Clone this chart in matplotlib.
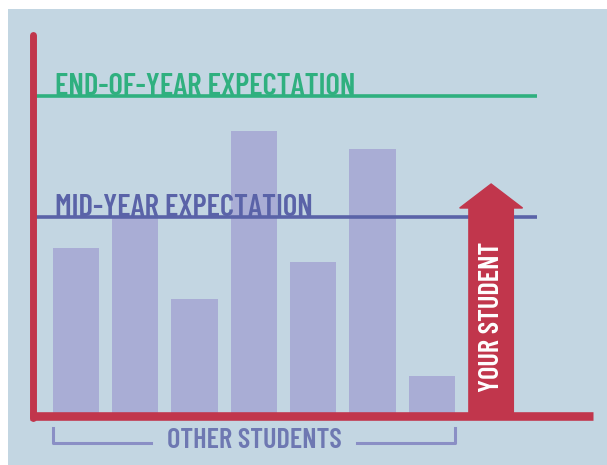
import matplotlib.pyplot as plt
from matplotlib.patches import Rectangle, FancyArrow

# values (end-of-year expectation = 100)
students = ["A", "B", "C", "D", "E", "F", "G"]
scores = [52.5, 62, 36.5, 89, 48, 83.5, 12.5]
mid_year = 62.2
end_of_year = 100
your_student = 72.5

RED = "#c1364c"
GREEN = "#2fb07f"
BLUE = "#5a63a8"
BAR = "#a9add5"
BG = "#c3d6e2"
FONT = ["Barlow Condensed", "Roboto Condensed", "DejaVu Sans"]

fig = plt.figure(figsize=(6.07, 4.65), dpi=100)
fig.patches.append(Rectangle((8 / 607, 0), 1, 1 - 9 / 465, transform=fig.transFigure,
                             facecolor=BG, edgecolor="none", zorder=-10))

ax = fig.add_axes([0, 0, 1, 1])
ax.set_xlim(-1.2816, 8.954)
ax.set_ylim(-15.31, 130)
ax.axis("off")
ax.patch.set_visible(False)

n = len(scores)
bw = 0.78
xs = list(range(n))
ax.bar(xs, scores, width=bw, color=BAR, zorder=2)

# expectation lines + labels sitting on them
for val, col, label in [(end_of_year, GREEN, "END-OF-YEAR EXPECTATION"),
                        (mid_year, BLUE, "MID-YEAR EXPECTATION")]:
    ax.plot([-0.67, 7.77], [val, val], color=col, lw=2.6, zorder=3, solid_capstyle="butt")
    ax.text(-0.36, val + 0.4, label, color=col, fontsize=22.2, fontweight="semibold",
            family=FONT, ha="left", va="baseline", zorder=4)

# your student arrow
arrow = FancyArrow(n, 0, 0, your_student, width=0.75, head_width=1.06, head_length=7.5,
                   length_includes_head=True, color=RED, zorder=5)
ax.add_patch(arrow)
ax.text(n, 31, "YOUR STUDENT", rotation=90, color="white", fontsize=20.5, fontweight="semibold",
        family=FONT, ha="center", va="center", zorder=6)

# axes lines
ax.plot([-0.725, -0.725], [-0.5, 119], color=RED, lw=5, zorder=6, solid_capstyle="round")
ax.plot([-0.78, 8.72], [0, 0], color=RED, lw=6.2, zorder=6, solid_capstyle="butt")

# bracket under the other students
x0 = xs[0] - bw / 2
x1 = xs[-1] + bw / 2
mid = (x0 + x1) / 2
bc = "#8a8fc5"
ax.plot([x0, x0, mid - 1.74], [-3.75, -8.4, -8.4], color=bc, lw=2.2, zorder=3)
ax.plot([x1, x1, mid + 1.74], [-3.75, -8.4, -8.4], color=bc, lw=2.2, zorder=3)
ax.text(mid, -7.6, "OTHER STUDENTS", color="#6e78b2", fontsize=20.5, fontweight="semibold",
        family=FONT, ha="center", va="center", zorder=4)

fig.savefig("out.png", dpi=100)
